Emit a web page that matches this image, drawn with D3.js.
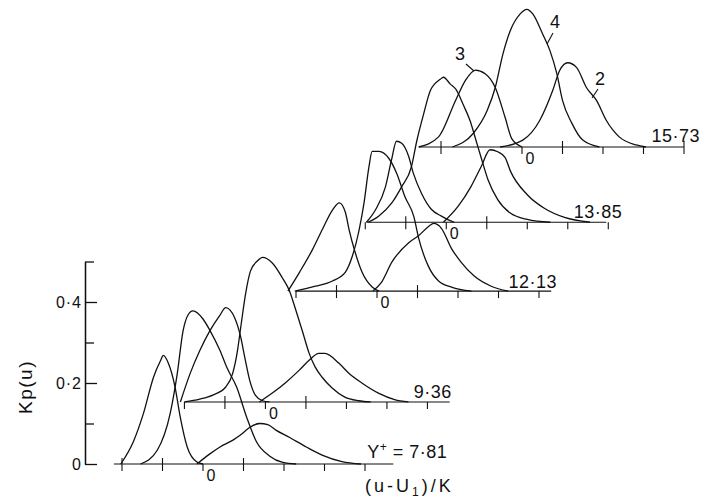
<!DOCTYPE html>
<html>
<head>
<meta charset="utf-8">
<script src="https://cdn.jsdelivr.net/npm/d3@7"></script>
<style>
body { margin: 0; background: #fff; }
svg { display: block; font-family: "Liberation Sans", Arial, sans-serif; }
.trace { fill: none; stroke: #111; stroke-width: 1.3; stroke-linejoin: round; }
.base, .tick-mark, .leader { stroke: #111; stroke-width: 1.1; }
text { fill: #111; }
</style>
</head>
<body>
<svg width="703" height="498"></svg>
<script>
// Y+ of each trace set, bottom to top
var yPlus = [7.81, 9.36, 12.13, 13.85, 15.73];
var probeIds = ["3", "4", "2"];

// Kp(u) against (u - U1)/K, one list per Y+ value
var probe3 = [
  [[-2.03,0],[-1.72,0.055],[-1.47,0.125],[-1.22,0.215],[-1.05,0.255],[-0.98,0.268],[-0.86,0.25],[-0.69,0.19],[-0.56,0.115],[-0.39,0.042],[-0.15,0.005],[0,0]],
  [[-2.1,0],[-1.86,0.07],[-1.62,0.127],[-1.37,0.176],[-1.13,0.213],[-0.98,0.233],[-0.76,0.208],[-0.61,0.16],[-0.51,0.11],[-0.39,0.054],[-0.25,0.017],[-0.07,0.003],[0.1,0]],
  [[-2.2,0],[-1.91,0.047],[-1.59,0.103],[-1.35,0.152],[-1.1,0.2],[-0.93,0.218],[-0.78,0.194],[-0.69,0.152],[-0.54,0.096],[-0.37,0.047],[-0.12,0.01],[0.05,0]],
  [[-1.97,0],[-1.74,0.032],[-1.5,0.088],[-1.35,0.155],[-1.23,0.2],[-1.1,0.195],[-0.93,0.163],[-0.81,0.12],[-0.61,0.071],[-0.37,0.032],[-0.12,0.015],[0.05,0.006],[0.2,0]],
  [[-2.55,0],[-2.06,0.025],[-1.64,0.115],[-1.4,0.164],[-1.15,0.19],[-0.91,0.181],[-0.66,0.147],[-0.42,0.074],[-0.25,0.02],[0,0]]
];
var probe4 = [
  [[-1.54,0],[-1.13,0.034],[-0.81,0.125],[-0.64,0.22],[-0.49,0.33],[-0.37,0.368],[-0.25,0.378],[0,0.358],[0.17,0.33],[0.42,0.28],[0.59,0.238],[0.83,0.19],[1.08,0.115],[1.32,0.055],[1.64,0.02],[1.97,0.004],[2.3,0]],
  [[-2.0,0],[-1.62,0.007],[-1.3,0.017],[-0.98,0.037],[-0.81,0.07],[-0.69,0.127],[-0.61,0.184],[-0.49,0.267],[-0.37,0.323],[-0.2,0.348],[-0.07,0.357],[0.17,0.343],[0.42,0.306],[0.59,0.275],[0.74,0.23],[0.91,0.176],[1.08,0.12],[1.23,0.086],[1.4,0.061],[1.64,0.035],[1.96,0.012],[2.3,0.003],[2.6,0]],
  [[-2.03,0],[-1.52,0.012],[-1.1,0.025],[-0.78,0.047],[-0.61,0.086],[-0.44,0.152],[-0.32,0.218],[-0.2,0.306],[-0.12,0.345],[0.05,0.345],[0.29,0.328],[0.49,0.29],[0.69,0.233],[0.91,0.184],[1.03,0.13],[1.27,0.061],[1.52,0.025],[1.84,0.01],[2.33,0]],
  [[-1.93,0],[-1.67,0.015],[-1.35,0.047],[-1.1,0.088],[-0.86,0.137],[-0.73,0.2],[-0.56,0.267],[-0.39,0.326],[-0.15,0.353],[-0.07,0.358],[0.1,0.341],[0.24,0.328],[0.42,0.29],[0.59,0.25],[0.74,0.2],[0.86,0.16],[1.03,0.105],[1.27,0.056],[1.59,0.022],[2.0,0.007],[2.57,0]],
  [[-1.72,0],[-1.2,0.034],[-0.86,0.09],[-0.66,0.147],[-0.47,0.23],[-0.29,0.287],[-0.05,0.328],[0.12,0.34],[0.27,0.328],[0.51,0.279],[0.69,0.238],[0.86,0.181],[1.0,0.115],[1.23,0.059],[1.5,0.017],[1.91,0]]
];
var probe2 = [
  [[-0.15,0],[0.17,0.025],[0.42,0.042],[0.74,0.059],[0.98,0.076],[1.15,0.09],[1.4,0.1],[1.6,0.097],[1.81,0.083],[2.13,0.066],[2.55,0.042],[2.94,0.022],[3.43,0.006],[3.9,0]],
  [[-0.15,0],[0.17,0.022],[0.49,0.047],[0.83,0.078],[1.08,0.103],[1.32,0.12],[1.47,0.12],[1.81,0.096],[2.06,0.071],[2.38,0.047],[2.79,0.022],[3.19,0.006],[3.53,0]],
  [[-0.1,0],[0.1,0.02],[0.37,0.072],[0.79,0.12],[1.03,0.137],[1.28,0.16],[1.4,0.167],[1.59,0.155],[1.84,0.105],[2.08,0.071],[2.4,0.037],[2.82,0.012],[3.24,0]],
  [[-0.07,0],[0.29,0.039],[0.61,0.088],[0.86,0.137],[1.08,0.179],[1.27,0.174],[1.45,0.16],[1.59,0.125],[2.0,0.068],[2.43,0.034],[2.92,0.012],[3.55,0]],
  [[-0.54,0],[0.02,0.017],[0.44,0.066],[0.76,0.14],[0.93,0.189],[1.13,0.208],[1.35,0.196],[1.59,0.147],[1.84,0.115],[2.08,0.066],[2.4,0.025],[2.82,0.005],[3.06,0]]
];

// baseline extent and tick marks of every trace set
var baseFrom = [-2.2, -2.0, -2.0, -1.97, -2.55];
var baseTo = [4.7, 4.55, 4.3, 3.95, 4.0];
var xTicks = [-2, -1, 0, 1, 2, 3, 4];
var tickKinds = ["++T+TTT", "T+T+TTT", "T+T+TTT", "T+T+TTT", "+ T+TT+"];
var kpTicks = [0, 0.2, 0.4];
var kpMinor = [0.1, 0.3, 0.5];

var svg = d3.select("svg");

var unitX = d3.scaleLinear().domain([0, 1]).range([0, 40.5]),
    unitP = d3.scaleLinear().domain([0, 0.5]).range([0, -202.5]),
    originX = d3.scaleLinear().domain([7.81, 15.73]).range([203, 522]),
    originY = d3.scaleLinear().domain([7.81, 15.73]).range([464, 147]),
    kp = d3.scaleLinear().domain([0, 0.5]).range([464, 261.5]);

var dot = function(s) { return s.replace(".", "\u00b7"); };

// Kp(u) axis, ticks pointing into the plot
var axisMajor = svg.append("g")
    .attr("transform", "translate(85,0)")
    .call(d3.axisLeft(kp).tickValues(kpTicks).tickSizeInner(-12).tickSizeOuter(0).tickPadding(3)
      .tickFormat(function(d) { return d === 0 ? "0" : dot(d3.format(".1f")(d)); }));
var axisMinor = svg.append("g")
    .attr("transform", "translate(85,0)")
    .call(d3.axisLeft(kp).tickValues(kpMinor).tickSizeInner(-9).tickSizeOuter(0).tickFormat(""));
svg.selectAll(".domain, .tick line").attr("stroke", "#111").attr("stroke-width", 1.3);
axisMajor.selectAll("text")
    .attr("font-family", "Liberation Sans, Arial, sans-serif")
    .style("font-size", "16px")
    .style("letter-spacing", "1px")
    .attr("fill", "#111");

svg.append("text")
    .attr("transform", "translate(32,387) rotate(-90)")
    .attr("text-anchor", "middle")
    .style("font-size", "19px")
    .style("letter-spacing", "1.5px")
    .text("Kp(u)");

var line = d3.line()
    .curve(d3.curveMonotoneX)
    .x(function(d) { return unitX(d[0]); })
    .y(function(d) { return unitP(d[1]); });

var panel = svg.selectAll(".panel")
  .data(yPlus)
  .enter().append("g")
    .attr("class", "panel")
    .attr("transform", function(d) { return "translate(" + originX(d) + "," + originY(d) + ")"; });

panel.append("line")
    .attr("class", "base")
    .attr("x1", function(d, i) { return unitX(baseFrom[i]); })
    .attr("x2", function(d, i) { return unitX(baseTo[i]); });

panel.each(function(d, i) {
  var g = d3.select(this);
  xTicks.forEach(function(t, j) {
    var kind = tickKinds[i][j];
    if (kind === " ") return;
    g.append("line")
        .attr("class", "tick-mark")
        .attr("x1", unitX(t)).attr("x2", unitX(t))
        .attr("y1", kind === "+" ? -6 : 0)
        .attr("y2", 7);
  });
  [probe3[i], probe4[i], probe2[i]].forEach(function(pts) {
    g.append("path")
        .attr("class", "trace")
        .attr("d", line(pts));
  });
});

panel.append("text")
    .attr("x", unitX(0) + 8)
    .attr("y", 17)
    .attr("text-anchor", "middle")
    .style("font-size", "16px")
    .text("0");

// Y+ labels at the right end of each baseline
var labelDx = [54, 2, 6, 16, 16],
    labelDy = [-6, -4, -3, -4, -5];
var vlab = panel.append("text")
    .attr("x", function(d, i) { return unitX(baseTo[i]) + labelDx[i]; })
    .attr("y", function(d, i) { return labelDy[i]; })
    .attr("text-anchor", "end")
    .style("font-size", "18px")
    .style("letter-spacing", "0.5px");
vlab.filter(function(d, i) { return i === 0; })
    .call(function(t) {
      t.append("tspan").text("Y");
      t.append("tspan").attr("dy", -7).style("font-size", "12px").text("+");
      t.append("tspan").attr("dy", 7).text(" = " + dot(d3.format(".2f")(yPlus[0])));
    });
vlab.filter(function(d, i) { return i > 0; })
    .text(function(d) { return dot(d3.format(".2f")(d)); });

// probe numbers on the top set
var topSet = panel.filter(function(d, i) { return i === yPlus.length - 1; });
var probeLabel = [[-62, -87], [33, -119], [78, -62]],
    leader = [[-56, -83, -48, -76], [31, -114, 25, -103], [76, -58, 70, -49]];
probeIds.forEach(function(id, k) {
  topSet.append("text")
      .attr("x", probeLabel[k][0]).attr("y", probeLabel[k][1])
      .attr("text-anchor", "middle")
      .style("font-size", "18px")
      .text(id);
  topSet.append("line")
      .attr("class", "leader")
      .attr("x1", leader[k][0]).attr("y1", leader[k][1])
      .attr("x2", leader[k][2]).attr("y2", leader[k][3]);
});

var xt = svg.append("text")
    .attr("x", 365)
    .attr("y", 492)
    .style("font-size", "18px")
    .style("letter-spacing", "3px");
xt.append("tspan").text("(u-U");
xt.append("tspan").attr("dy", 4).style("font-size", "12px").text("1");
xt.append("tspan").attr("dy", -4).text(")/K");
</script>
</body>
</html>
